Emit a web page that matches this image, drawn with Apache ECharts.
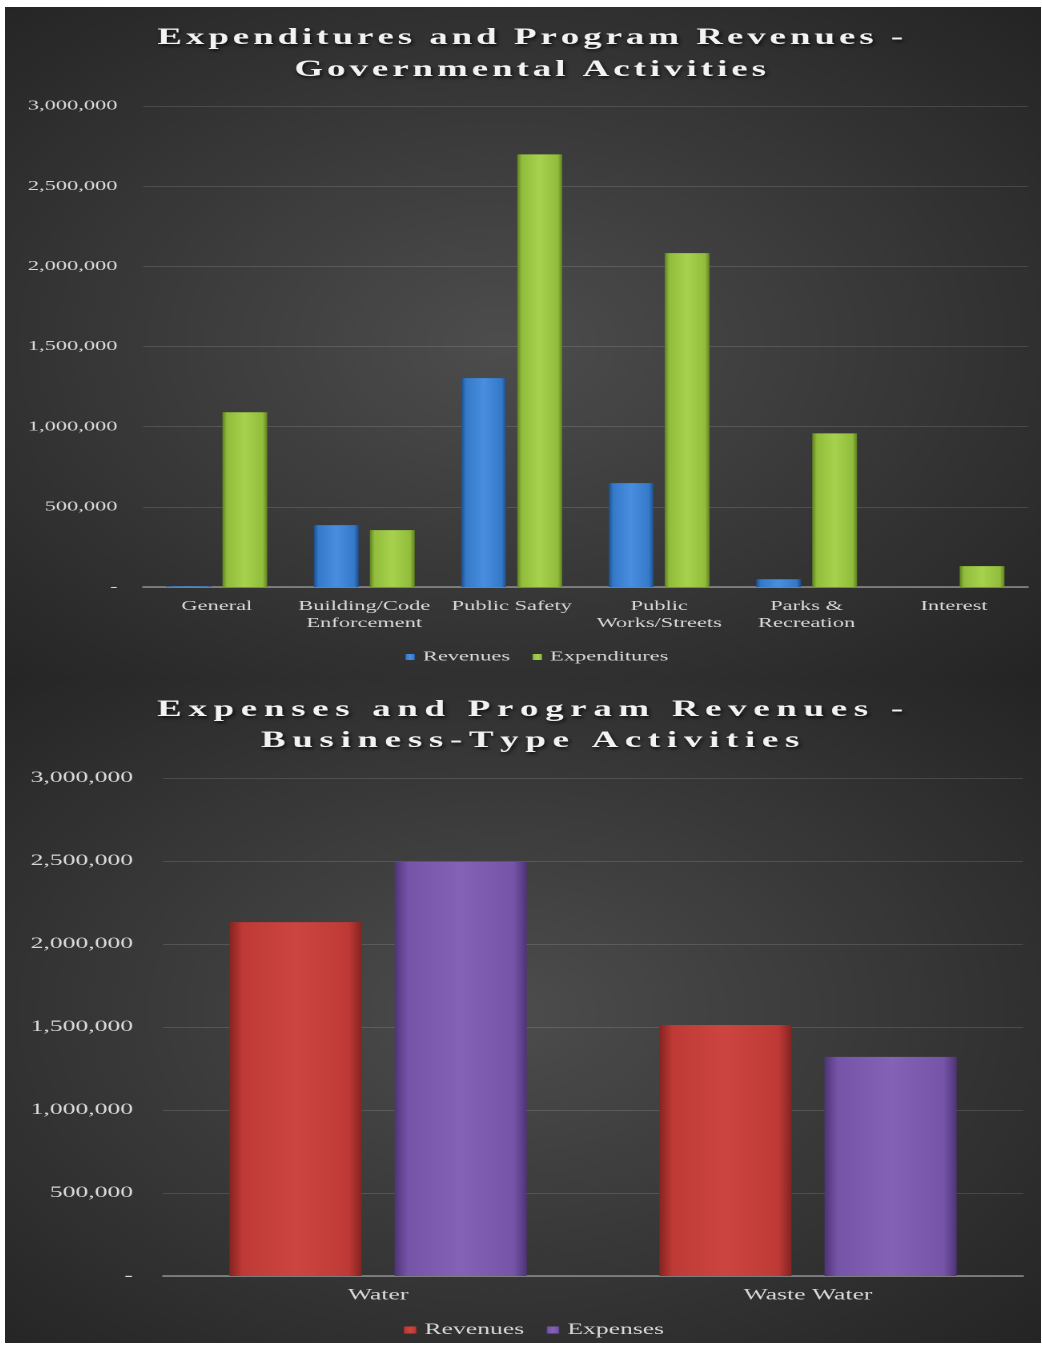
<!DOCTYPE html>
<html>
<head>
<meta charset="utf-8">
<title>Expenditures and Program Revenues</title>
<script src="https://cdn.jsdelivr.net/npm/echarts@6/dist/echarts.min.js"></script>
<style>
  body { margin: 0; background: #fff; width: 1042px; height: 1347px; position: relative; overflow: hidden; }
  /* the original picture is stretched sideways, so the charts are drawn narrow and widened */
  .chart-box { position: absolute; left: 5px; width: 647px; transform: scaleX(1.6012); transform-origin: 0 0; }
  #govChart { top: 7px; height: 673px; }
  #bizChart { top: 680px; height: 663px; }
</style>
</head>
<body>
<div id="govChart" class="chart-box"></div>
<div id="bizChart" class="chart-box"></div>
<script>
// governmental activities
var govCategories = ["General", "Building/Code\nEnforcement", "Public Safety", "Public\nWorks/Streets", "Parks &\nRecreation", "Interest"];
var govRevenues = [4000, 386000, 1303000, 648000, 48000, 0];
var govExpenditures = [1090000, 355000, 2698000, 2082000, 958000, 130000];

// business-type activities
var bizCategories = ["Water", "Waste Water"];
var bizRevenues = [2132000, 1512000];
var bizExpenses = [2495000, 1320000];

var yMax = 3000000;
var yStep = 500000;

var serif = '"Liberation Serif", "Times New Roman", serif';
var labelColor = "#d9d9d9";

// excel accounting style: zero shows as a dash
function money(v) {
  return v === 0 ? "-" : v.toLocaleString("en-US");
}

// wrap every character so the title gets wide letter spacing
function spread(line) {
  return line.split("").map(function (c) { return "{c|" + c + "}"; }).join("");
}

function bevel(edge, main, light) {
  return {
    type: "linear", x: 0, y: 0, x2: 1, y2: 0,
    colorStops: [
      { offset: 0, color: edge },
      { offset: 0.1, color: main },
      { offset: 0.5, color: light },
      { offset: 0.9, color: main },
      { offset: 1, color: edge }
    ]
  };
}

function background() {
  return {
    type: "radial", x: 0.48, y: 0.5, r: 0.75,
    colorStops: [
      { offset: 0, color: "#4d4d4d" },
      { offset: 1, color: "#232323" }
    ]
  };
}

function buildOption(cfg) {
  return {
    backgroundColor: background(),
    animation: false,
    title: {
      text: spread(cfg.title[0]) + "\n" + spread(cfg.title[1]),
      left: 328,
      textAlign: "center",
      top: cfg.titleTop,
      padding: 0,
      textStyle: {
        rich: {
          c: {
            fontFamily: serif,
            fontSize: 23,
            fontWeight: "bold",
            color: "#f2f2f2",
            lineHeight: cfg.titleLine,
            padding: [0, cfg.spacing, 0, cfg.spacing],
            textShadowColor: "rgba(0,0,0,0.75)",
            textShadowBlur: 3,
            textShadowOffsetX: 1,
            textShadowOffsetY: 2
          }
        }
      }
    },
    legend: {
      top: cfg.legendTop,
      left: cfg.legendLeft,
      padding: 0,
      icon: "rect",
      itemWidth: cfg.marker[0],
      itemHeight: cfg.marker[1],
      itemGap: 14,
      textStyle: { color: labelColor, fontFamily: serif, fontSize: cfg.font },
      data: cfg.names
    },
    grid: cfg.grid,
    xAxis: {
      type: "category",
      data: cfg.categories,
      axisLine: { lineStyle: { color: "#8e8e8e", width: 1.5 } },
      axisTick: { show: false },
      axisLabel: {
        interval: 0,
        color: labelColor,
        fontFamily: serif,
        fontSize: cfg.font,
        lineHeight: cfg.font + 3,
        margin: cfg.xMargin
      }
    },
    yAxis: {
      type: "value",
      min: 0,
      max: yMax,
      interval: yStep,
      axisLine: { show: false },
      axisTick: { show: false },
      splitLine: { lineStyle: { color: "rgba(255,255,255,0.13)", width: 1 } },
      axisLabel: {
        color: labelColor,
        fontFamily: serif,
        fontSize: cfg.font,
        margin: cfg.labelMargin,
        formatter: money
      }
    },
    series: [
      {
        name: cfg.names[0],
        type: "bar",
        barWidth: cfg.barWidth,
        barGap: "25%",
        itemStyle: { color: cfg.colors[0] },
        data: cfg.values[0]
      },
      {
        name: cfg.names[1],
        type: "bar",
        barWidth: cfg.barWidth,
        barGap: "25%",
        itemStyle: { color: cfg.colors[1] },
        data: cfg.values[1]
      }
    ]
  };
}

var govChart = echarts.init(document.getElementById("govChart"), null, { devicePixelRatio: 2 });
govChart.setOption(buildOption({
  title: ["Expenditures and Program Revenues -", "Governmental Activities"],
  titleTop: 15,
  titleLine: 32,
  spacing: 1.25,
  font: 14,
  marker: [6, 6],
  legendTop: 643,
  legendLeft: 250,
  names: ["Revenues", "Expenditures"],
  grid: { left: 86.25, right: 8.25, top: 99, bottom: 93 },
  labelMargin: 16,
  xMargin: 11,
  categories: govCategories,
  barWidth: 28,
  colors: [bevel("#1d4d8a", "#3579c9", "#4a8ee0"), bevel("#5f8220", "#92bd3c", "#a6d24e")],
  values: [govRevenues, govExpenditures]
}));

var bizChart = echarts.init(document.getElementById("bizChart"), null, { devicePixelRatio: 2 });
bizChart.setOption(buildOption({
  title: ["Expenses and Program Revenues -", "Business-Type Activities"],
  titleTop: 14.5,
  titleLine: 31,
  spacing: 2.1,
  font: 16,
  marker: [8, 7],
  legendTop: 642,
  legendLeft: 249,
  names: ["Revenues", "Expenses"],
  grid: { left: 98.75, right: 11.25, top: 98, bottom: 67 },
  labelMargin: 18.75,
  xMargin: 10,
  categories: bizCategories,
  barWidth: 82.5,
  colors: [bevel("#852421", "#bf3a36", "#cd4540"), bevel("#4f3478", "#7655a8", "#8463b6")],
  values: [bizRevenues, bizExpenses]
}));
</script>
</body>
</html>
